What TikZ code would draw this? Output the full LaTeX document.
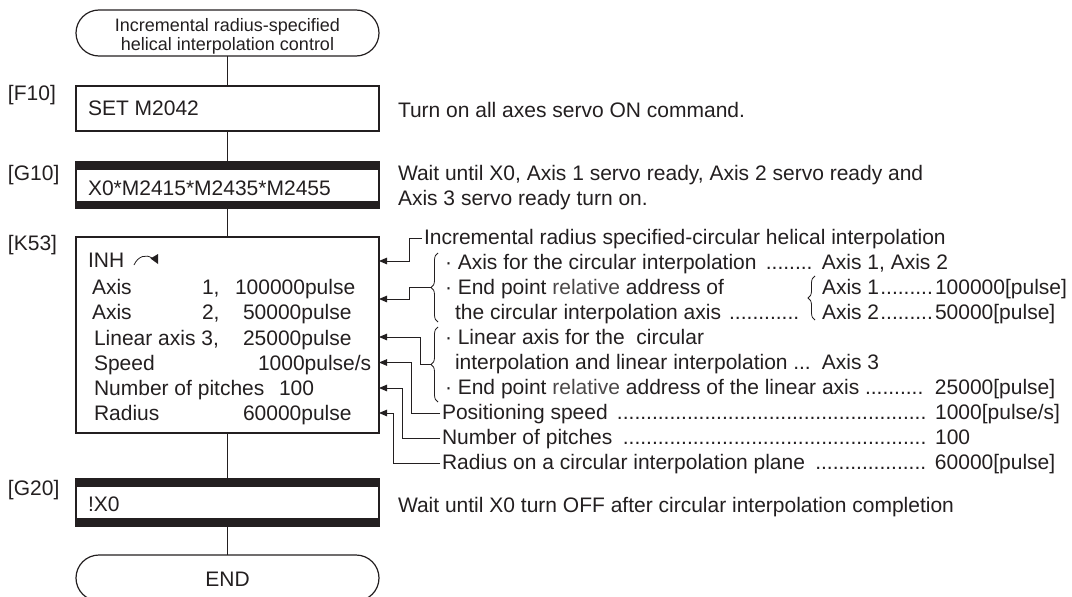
\documentclass[tikz,border=0pt]{standalone}
\usepackage{fontspec}
\setmainfont{Liberation Sans}
\usetikzlibrary{arrows.meta,decorations.pathreplacing,shapes.misc}
\definecolor{ink}{RGB}{35,31,32}
\definecolor{relc}{RGB}{75,72,72}
\newcommand{\dotlead}{\leaders\hbox{.}\hfill}
\newcommand{\txtnode}[4]{\node[txt] (#1) at (#2,#3) {#4};}
\begin{document}
\begin{tikzpicture}[x=1pt,y=-1pt,
  txt/.style={anchor=base west,inner sep=0pt,outer sep=0pt,text=ink,font=\fontsize{21}{25}\selectfont},
  box/.style={draw=ink,line width=1.2pt,minimum width=303pt,inner sep=0pt,outer sep=0pt},
  term/.style={draw=ink,line width=1.2pt,rounded rectangle,rounded rectangle arc length=180,minimum width=303pt,minimum height=46pt,inner sep=0pt,outer sep=0pt},
  ln/.style={draw=ink,line width=1pt},
  arr/.style={draw=ink,line width=1pt,-{Triangle[length=8pt,width=6.5pt]}},
  brc/.style={draw=ink,line width=0.8pt,decorate,decoration={brace,amplitude=7pt}}
]
\useasboundingbox (0,0) rectangle (1072,597);
\clip (0,0) rectangle (1072,597);

% ---- flow column ----
\node[term] (start) at (227.5,33) {};
\node[txt,anchor=center,align=center,font=\fontsize{18}{18.5}\selectfont] (starttxt) at (227.5,36.3) {Incremental radius-specified\\helical interpolation control};

\node[box,minimum height=45pt] (f10) at (227.5,108.5) {};
\txtnode{f10t}{88}{115}{SET M2042}

\node[box,minimum height=46pt] (g10) at (227.5,185) {};
\fill[ink] (g10.north west) rectangle ([yshift=-8pt]g10.north east);
\fill[ink] (g10.south west) rectangle ([yshift=7pt]g10.south east);
\txtnode{g10t}{88}{195}{X0*M2415*M2435*M2455}

\node[box,minimum height=196pt] (k53) at (227.5,335) {};
\txtnode{inh}{88}{267}{INH}
\draw[ink,line width=0.8pt] (134,265) .. controls (138,256) and (146,254) .. (152,258);
\fill[ink] (150.5,258.5) -- (158,254) -- (158,264) -- cycle;
\txtnode{ka1}{92}{294}{Axis}
\txtnode{ka1n}{202}{294}{1,}
\txtnode{ka1v}{235}{294}{100000pulse}
\txtnode{ka2}{92}{319}{Axis}
\txtnode{ka2n}{202}{319}{2,}
\txtnode{ka2v}{243}{319}{50000pulse}
\txtnode{kl}{94}{345}{Linear axis 3,}
\txtnode{klv}{243}{345}{25000pulse}
\txtnode{ks}{94}{370}{Speed}
\txtnode{ksv}{258}{370}{1000pulse/s}
\txtnode{kn}{94}{395}{Number of pitches}
\txtnode{knv}{279}{395}{100}
\txtnode{kr}{94}{420}{Radius}
\txtnode{krv}{243}{420}{60000pulse}

\node[box,minimum height=47pt] (g20) at (227.5,502.5) {};
\fill[ink] (g20.north west) rectangle ([yshift=-8pt]g20.north east);
\fill[ink] (g20.south west) rectangle ([yshift=8pt]g20.south east);
\txtnode{g20t}{88}{511}{!X0}

\node[term] (end) at (227.5,578) {};
\node[txt,anchor=base] (endt) at (227.5,586.7) {END};

\draw[ln] (start) -- (f10);
\draw[ln] (f10) -- (g10);
\draw[ln] (g10) -- (k53);
\draw[ln] (k53) -- (g20);
\draw[ln] (g20) -- (end);

% ---- step labels ----
\txtnode{lf10}{8}{100}{[F10]}
\txtnode{lg10}{8}{180}{[G10]}
\txtnode{lk53}{8}{250}{[K53]}
\txtnode{lg20}{8}{495}{[G20]}

% ---- descriptions ----
\txtnode{df10}{398}{117}{Turn on all axes servo ON command.}
\txtnode{dg10a}{398}{180}{Wait until X0, Axis 1 servo ready, Axis 2 servo ready and}
\txtnode{dg10b}{398}{205}{Axis 3 servo ready turn on.}
\txtnode{dg20}{398}{512}{Wait until X0 turn OFF after circular interpolation completion}

% ---- K53 annotations ----
\txtnode{r0}{424}{244}{Incremental radius specified-circular helical interpolation}
\txtnode{r1}{445}{269}{\hbox to 377pt{· Axis for the circular interpolation \dotlead\ }Axis 1, Axis 2}
\txtnode{r2}{445}{294}{· End point {\color{relc}relative} address of}
\txtnode{r2b}{822}{294}{\hbox to 113pt{Axis 1\dotlead}100000[pulse]}
\txtnode{r3}{455}{319}{\hbox to 346pt{the circular interpolation axis \dotlead}}
\txtnode{r3b}{822}{319}{\hbox to 113pt{Axis 2\dotlead}50000[pulse]}
\txtnode{r4}{445}{344}{· Linear axis for the\ \ circular}
\txtnode{r5}{455}{369}{\hbox to 367pt{interpolation and linear interpolation\dotlead\ }Axis 3}
\txtnode{r6}{445}{394}{\hbox to 490pt{· End point {\color{relc}relative} address of the linear axis\dotlead\ }25000[pulse]}
\txtnode{r7}{442}{419}{\hbox to 493pt{Positioning speed \dotlead\ }1000[pulse/s]}
\txtnode{r8}{442}{444}{\hbox to 493pt{Number of pitches \dotlead\ }100}
\txtnode{r9}{442}{469}{\hbox to 493pt{Radius on a circular interpolation plane \dotlead\ }60000[pulse]}

% braces
\draw[brc] (438,322) -- (438,253);
\draw[brc] (438,402) -- (438,327);
\draw[brc] (815,320) -- (815,276);
\coordinate (b1) at (431,287.5);
\coordinate (b2) at (431,364.5);

% arrow targets on K53
\coordinate (a0) at (k53.east |- 0,261);
\coordinate (a1) at (k53.east |- 0,299);
\coordinate (a2) at (k53.east |- 0,337);
\coordinate (a3) at (k53.east |- 0,362.5);
\coordinate (a4) at (k53.east |- 0,388);
\coordinate (a5) at (k53.east |- 0,413);

\draw[arr] ([xshift=-2pt]r0.west) -- ++(-13,0) |- (a0);
\draw[arr] (b1) -- ++(-22,0) |- (a1);
\draw[arr] (b2) -- ++(-11,0) |- (a2);
\draw[arr] ([xshift=-2pt]r7.west) -- ++(-29,0) |- (a3);
\draw[arr] ([xshift=-2pt]r8.west) -- ++(-38,0) |- (a4);
\draw[arr] ([xshift=-2pt]r9.west) -- ++(-47,0) |- (a5);
\end{tikzpicture}
\end{document}
